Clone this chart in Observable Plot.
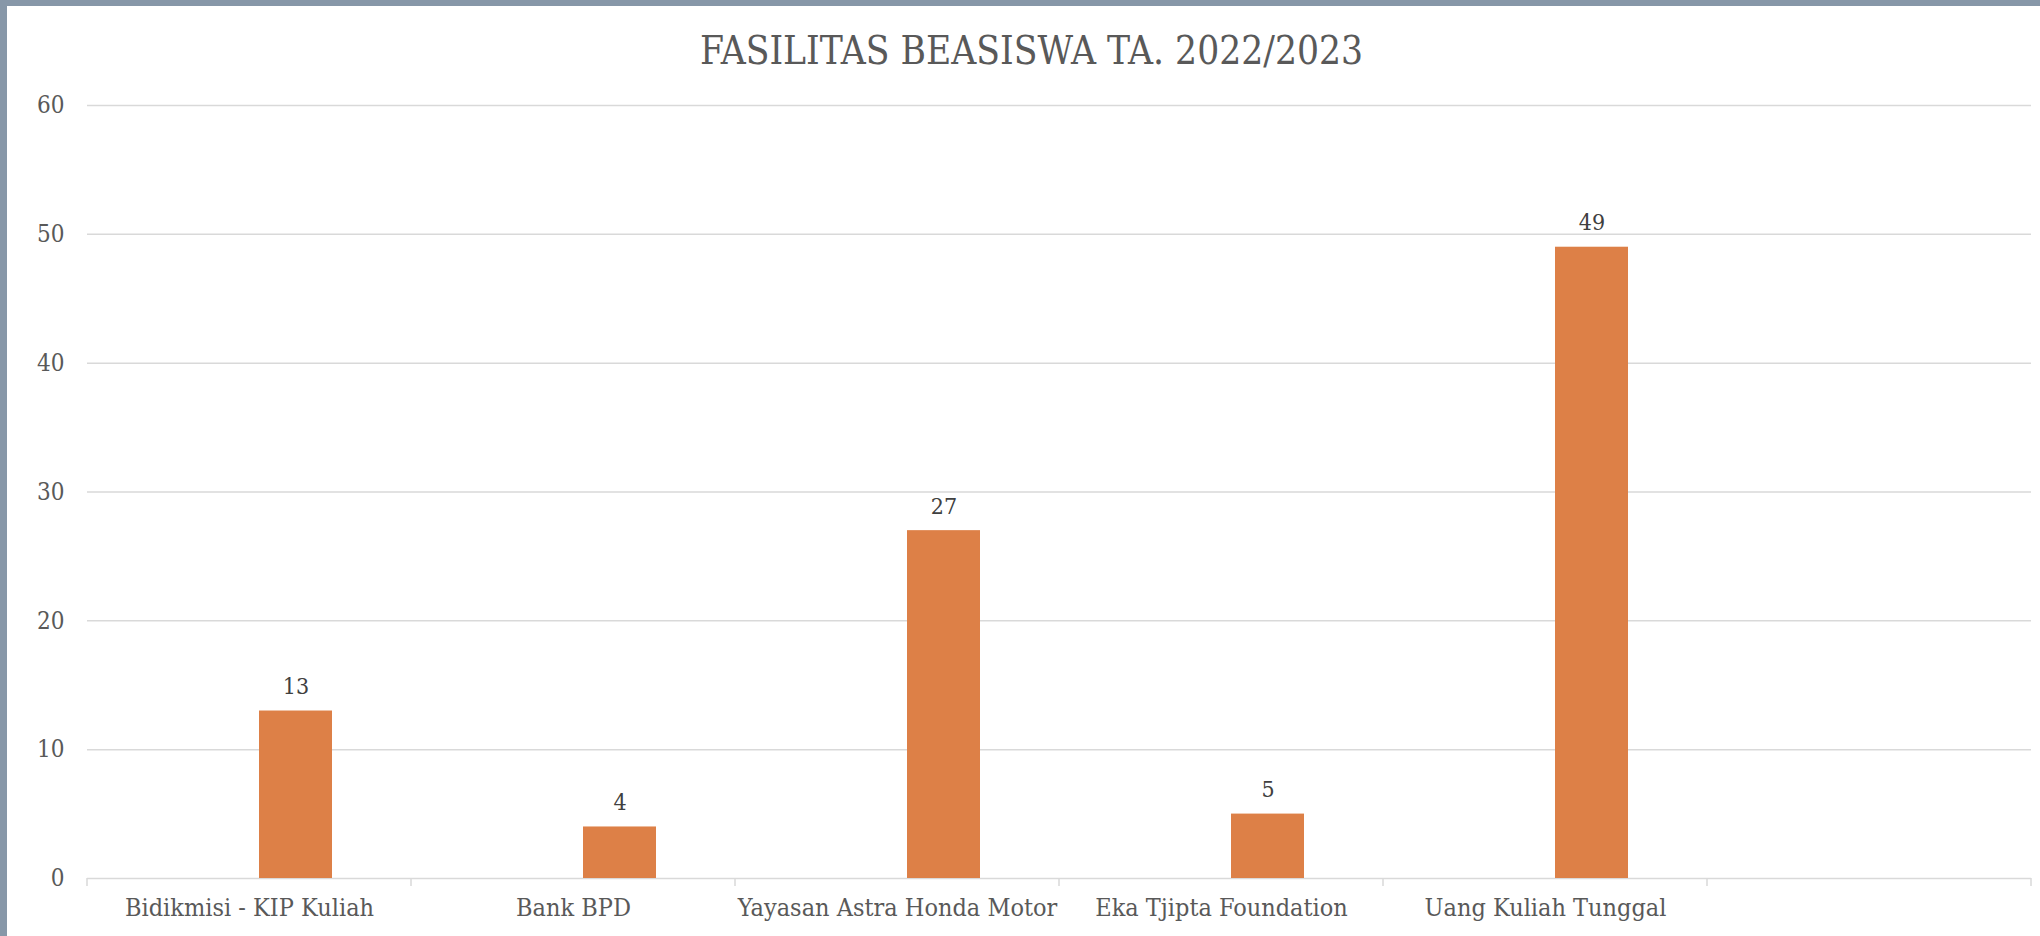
<!DOCTYPE html>
<html>
<head>
<meta charset="utf-8">
<script src="https://cdn.jsdelivr.net/npm/d3@7"></script>
<script src="https://cdn.jsdelivr.net/npm/@observablehq/plot@0.6"></script>
<style>
  html, body { margin: 0; padding: 0; background: #ffffff; }
  #frame {
    width: 2040px; height: 936px; box-sizing: border-box;
    border-top: 6px solid #8797a8; border-left: 7px solid #8797a8;
    background: #ffffff; overflow: hidden;
  }
  #title {
    height: 74px; box-sizing: border-box; padding-top: 24px; padding-left: 16px;
    text-align: center; font-family: "DejaVu Serif Condensed", "DejaVu Serif", serif;
    font-stretch: condensed; font-size: 38.5px; line-height: 42px; color: #595959;
  }
  #chart svg { display: block; }
</style>
</head>
<body>
<div id="frame">
  <div id="title">FASILITAS BEASISWA TA. 2022/2023</div>
  <div id="chart"></div>
</div>
<script>
const categories = ["Bidikmisi - KIP Kuliah", "Bank BPD", "Yayasan Astra Honda Motor", "Eka Tjipta Foundation", "Uang Kuliah Tunggal", ""];
const values = [13, 4, 27, 5, 49, null];
const yTicks = [0, 10, 20, 30, 40, 50, 60];

const data = categories.map((c, i) => ({category: c, value: values[i]}));
const bars = data.filter(d => d.value != null);

const W = 2033, H = 856, mL = 80, mR = 9, mT = 25, mB = 58;
const insetL = 172, insetR = 79;
const barShift = (insetL - insetR) / 2;
const font = "'DejaVu Serif Condensed', 'DejaVu Serif', serif";

const boundaryTicks = (index, scales, values, dims) => {
  const g = d3.create("svg:g");
  const y0 = scales.y(0);
  const xs = categories.map(c => scales.x(c)).concat([scales.x(categories[categories.length - 1]) + scales.x.bandwidth()]);
  for (const x of xs) {
    g.append("line").attr("x1", x).attr("x2", x).attr("y1", y0).attr("y2", y0 + 8)
      .attr("stroke", "#d9d9d9").attr("stroke-width", 1.5);
  }
  return g.node();
};

const chart = Plot.plot({
  width: W, height: H,
  marginLeft: mL, marginRight: mR, marginTop: mT, marginBottom: mB,
  style: {fontFamily: font, fontSize: "22px", color: "#595959", background: "#ffffff", fontStretch: "condensed"},
  x: {type: "band", domain: categories, padding: 0, label: null},
  y: {domain: [0, 60], label: null},
  marks: [
    Plot.ruleY(yTicks, {stroke: "#d9d9d9", strokeWidth: 1.5}),
    Plot.axisY({ticks: yTicks, tickSize: 0, tickPadding: 23, fontSize: 24, fill: "#595959", label: null}),
    Plot.axisX({tickSize: 0, tickPadding: 20, fontSize: 25, fill: "#595959", label: null}),
    boundaryTicks,
    Plot.barY(bars, {x: "category", y: "value", fill: "#dd8047", insetLeft: insetL, insetRight: insetR}),
    Plot.text(bars, {x: "category", y: "value", text: d => String(d.value), dx: barShift, dy: -17, lineAnchor: "bottom", fontSize: 23, fill: "#404040"})
  ]
});
document.getElementById("chart").appendChild(chart);
</script>
</body>
</html>
